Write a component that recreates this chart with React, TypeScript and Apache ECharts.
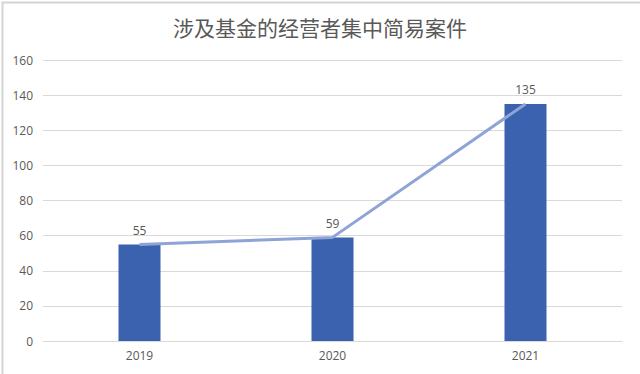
import React, { useEffect, useRef } from "react";
import * as echarts from "echarts";

const title = "涉及基金的经营者集中简易案件";
const categories = ["2019", "2020", "2021"];
const barValues = [55, 59, 135];
const lineValues = [55, 59, 135];
const yMin = 0;
const yMax = 160;
const yStep = 20;

export default function App() {
  const ref = useRef<HTMLDivElement>(null);
  useEffect(() => {
    if (!ref.current) return;
    const chart = echarts.init(ref.current, null, { renderer: "svg" });
    const font = "'Noto Sans CJK SC', 'Microsoft YaHei', sans-serif";
    const numFont = "'Open Sans', 'Noto Sans', sans-serif";
    chart.setOption({
      animation: false,
      backgroundColor: "#ffffff",
      textStyle: { fontFamily: numFont },
      title: {
        text: title,
        left: "center",
        top: 11,
        textStyle: { fontSize: 21, fontWeight: "normal", color: "#595959", fontFamily: font },
      },
      graphic: [
        {
          type: "rect",
          left: 0,
          top: 0,
          shape: { x: 0, y: 0, width: 639, height: 373 },
          style: { fill: "none", stroke: "#d4d4d4", lineWidth: 2 },
          silent: true,
        },
      ],
      grid: { left: 43, right: 18, top: 60, bottom: 33, containLabel: false },
      xAxis: {
        type: "category",
        data: categories,
        axisLine: { lineStyle: { color: "#d9d9d9", width: 1 } },
        axisTick: { show: false },
        axisLabel: { color: "#595959", fontSize: 12, margin: 8, fontFamily: numFont },
      },
      yAxis: {
        type: "value",
        min: yMin,
        max: yMax,
        interval: yStep,
        axisLine: { show: false },
        axisTick: { show: false },
        axisLabel: { color: "#595959", fontSize: 12, margin: 10, fontFamily: numFont },
        splitLine: { lineStyle: { color: "#d9d9d9", width: 1 } },
      },
      series: [
        {
          type: "bar",
          data: barValues,
          barWidth: 42,
          itemStyle: { color: "#3A62AE" },
          label: { show: true, position: "top", distance: 8, color: "#595959", fontSize: 12, fontFamily: numFont },
          z: 2,
        },
        {
          type: "line",
          data: lineValues,
          symbol: "none",
          lineStyle: { color: "#8EA3D6", width: 3 },
          z: 3,
        },
      ],
    });
    return () => chart.dispose();
  }, []);
  return (
    <div
      ref={ref}
      style={{ position: "fixed", left: 0, top: 0, width: 640, height: 374 }}
    />
  );
}
